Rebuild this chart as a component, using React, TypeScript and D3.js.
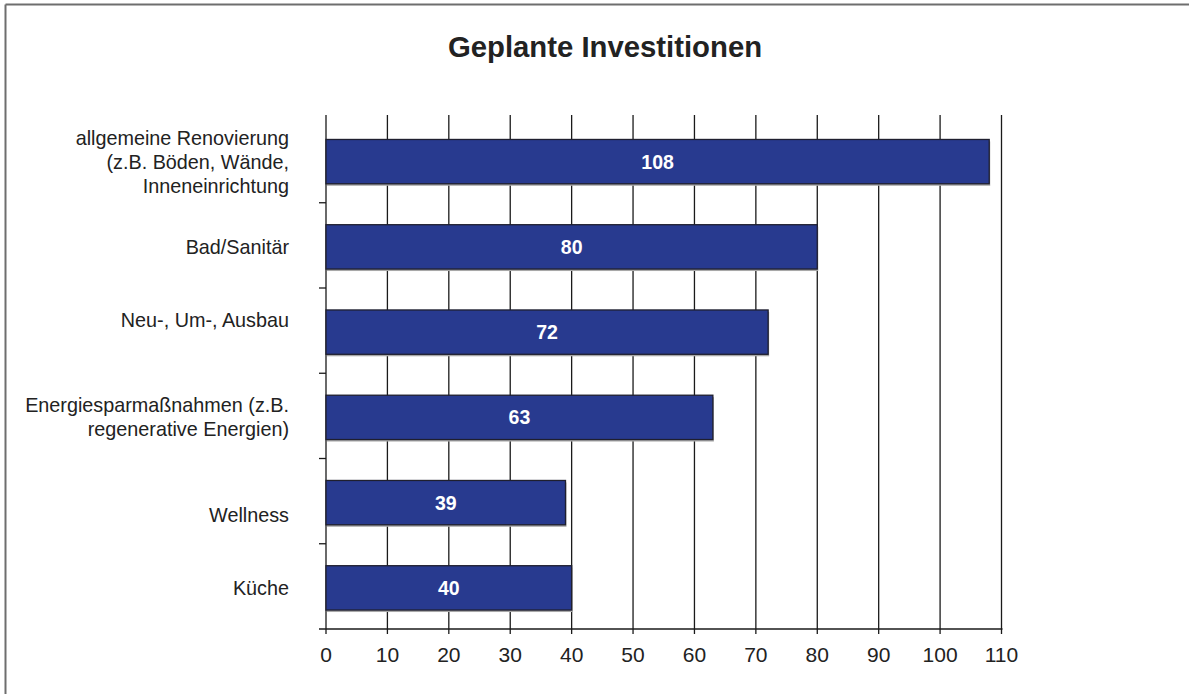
import React from "react";
import * as d3 from "d3";

const title = "Geplante Investitionen";
const categories: string[][] = [
  ["allgemeine Renovierung", "(z.B. Böden, Wände,", "Inneneinrichtung"],
  ["Bad/Sanitär"],
  ["Neu-, Um-, Ausbau", ""],
  ["Energiesparmaßnahmen (z.B.", "regenerative Energien)"],
  ["", "Wellness"],
  ["Küche"],
];
const values: number[] = [108, 80, 72, 63, 39, 40];
const xTicks: number[] = [0, 10, 20, 30, 40, 50, 60, 70, 80, 90, 100, 110];

const W = 1189;
const H = 694;
const FONT = "'Liberation Sans', Arial, Helvetica, sans-serif";

export default function App() {
  const ids = categories.map((_, i) => String(i));
  const x = d3.scaleLinear().domain([0, 110]).range([326, 1001.5]);
  const y = d3
    .scaleBand<string>()
    .domain(ids)
    .range([117.5, 629])
    .paddingInner(0.48)
    .paddingOuter(0.24);
  const step = y.step();
  const top = 117.5;
  const bottom = 629;
  const lineH = 24;

  return (
    <svg
      width={W}
      height={H}
      style={{ position: "absolute", left: 0, top: 0, background: "#fff" }}
      fontFamily={FONT}
    >
      {/* frame */}
      <line x1={5.5} y1={4.5} x2={W} y2={4.5} stroke="#6e6e6e" strokeWidth={2} />
      <line x1={5.5} y1={4.5} x2={5.5} y2={H} stroke="#6e6e6e" strokeWidth={2} />

      <text x={605} y={57} textAnchor="middle" fontSize={29.3} fontWeight="bold" fill="#222">
        {title}
      </text>

      {/* grid lines */}
      {xTicks.map((t) => (
        <line
          key={"g" + t}
          x1={x(t)}
          x2={x(t)}
          y1={115}
          y2={bottom + 5}
          stroke="#1a1a1a"
          strokeWidth={1.3}
        />
      ))}
      {/* bottom axis */}
      <line x1={319} x2={x(110) + 1} y1={bottom} y2={bottom} stroke="#1a1a1a" strokeWidth={1.5} />
      {/* category ticks */}
      {d3.range(1, categories.length).map((i) => (
        <line
          key={"ct" + i}
          x1={319}
          x2={x(0)}
          y1={top + i * step}
          y2={top + i * step}
          stroke="#1a1a1a"
          strokeWidth={1.3}
        />
      ))}

      {/* bars */}
      {values.map((v, i) => {
        const by = (y(String(i)) as number) + 1.5;
        const bh = y.bandwidth();
        return (
          <g key={"b" + i}>
            <rect x={x(0) + 1} y={by + 2} width={x(v) - x(0)} height={bh} fill="#a8a8a8" />
            <rect
              x={x(0)}
              y={by}
              width={x(v) - x(0)}
              height={bh}
              fill="#283a8f"
              stroke="#1f1f2f"
              strokeWidth={1.3}
            />
            <text
              x={(x(0) + x(v)) / 2}
              y={by + bh / 2 + 7}
              textAnchor="middle"
              fontSize={19.5}
              fontWeight="bold"
              fill="#fff"
            >
              {v}
            </text>
          </g>
        );
      })}

      {/* category labels */}
      {categories.map((lines, i) => {
        const cy = (y(String(i)) as number) + y.bandwidth() / 2 + 1.5;
        const n = lines.length;
        return (
          <text key={"c" + i} textAnchor="end" fontSize={19.8} fill="#222">
            {lines.map((ln, j) => (
              <tspan key={j} x={289} y={cy + (j - (n - 1) / 2) * lineH + 7}>
                {ln}
              </tspan>
            ))}
          </text>
        );
      })}

      {/* x tick labels */}
      {xTicks.map((t) => (
        <text key={"t" + t} x={x(t)} y={661.5} textAnchor="middle" fontSize={21} fill="#222">
          {t}
        </text>
      ))}
    </svg>
  );
}
